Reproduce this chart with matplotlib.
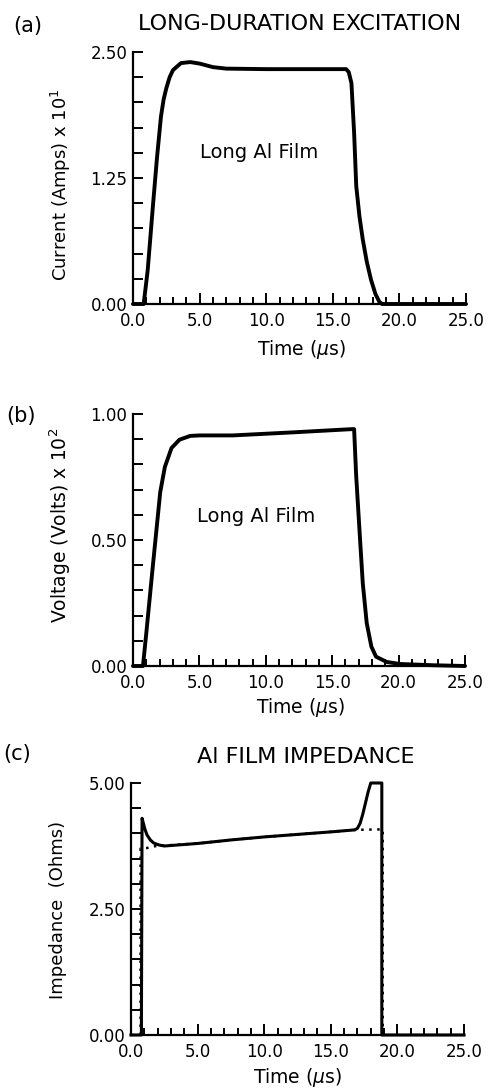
import matplotlib
matplotlib.use("Agg")
import matplotlib.pyplot as plt
from matplotlib.ticker import MultipleLocator, FixedLocator, FormatStrFormatter

# ---------------- data ----------------
# (a) current, Amps x 10^1
time_a = [0.0, 0.8, 1.1, 1.5, 1.8, 2.1, 2.3, 2.5, 2.75, 3.0, 3.6, 4.3, 5.0, 6.0, 7.0, 10.0,
          14.0, 16.0, 16.2, 16.4, 16.6, 16.76, 17.0, 17.25, 17.55, 17.87, 18.2, 18.5, 18.7, 25.0]
current_a = [0.0, 0.0, 0.33, 0.98, 1.45, 1.86, 2.03, 2.14, 2.25, 2.32, 2.39, 2.40, 2.385, 2.35,
             2.335, 2.33, 2.33, 2.33, 2.30, 2.19, 1.70, 1.17, 0.87, 0.64, 0.42, 0.24, 0.10,
             0.02, 0.0, 0.0]

# (b) voltage, Volts x 10^2
time_b = [0.0, 0.75, 1.0, 1.5, 2.05, 2.4, 2.9, 3.5, 4.3, 5.0, 7.5, 12.0, 16.5, 16.65,
          16.8, 17.1, 17.3, 17.6, 17.95, 18.3, 19.1, 20.1, 22.6, 25.0]
voltage_b = [0.0, 0.0, 0.13, 0.40, 0.69, 0.79, 0.865, 0.898, 0.913, 0.915, 0.915, 0.927, 0.94,
             0.94, 0.76, 0.50, 0.33, 0.17, 0.077, 0.037, 0.016, 0.008, 0.003, 0.0]

# (c) impedance, Ohms (solid: measured, dotted: fitted)
time_c = [0.0, 0.78, 0.83, 1.05, 1.2, 1.45, 1.7, 2.1, 2.5, 5.0, 7.5, 10.0, 12.5, 15.0, 16.8,
          17.0, 17.2, 17.4, 17.6, 17.8, 18.0, 18.83, 18.83, 25.0]
imped_c = [0.0, 0.0, 4.30, 4.08, 3.97, 3.87, 3.81, 3.77, 3.75, 3.80, 3.87, 3.93, 3.98, 4.03,
           4.07, 4.10, 4.20, 4.38, 4.60, 4.82, 5.0, 5.0, 0.0, 0.0]
time_fit = [0.72, 0.72, 1.2, 1.5, 1.9, 2.5, 5.0, 7.5, 10.0, 12.5, 15.0, 16.8, 18.9, 18.9]
imped_fit = [0.0, 3.70, 3.71, 3.73, 3.75, 3.76, 3.80, 3.87, 3.93, 3.98, 4.03, 4.07, 4.08, 0.0]

x_ticks = [0.0, 5.0, 10.0, 15.0, 20.0, 25.0]
y_ticks_a = [0.0, 1.25, 2.50]
y_ticks_b = [0.0, 0.50, 1.00]
y_ticks_c = [0.0, 2.50, 5.00]

# ---------------- figure ----------------
W, H = 491, 1088
fig = plt.figure(figsize=(W / 100, H / 100), dpi=100)
fig.patch.set_facecolor("white")


def px_axes(left, right, top, bottom):
    return fig.add_axes([left / W, 1 - bottom / H, (right - left) / W, (bottom - top) / H])


def style(ax, yticks, yminor, ymax, xpad=6):
    ax.set_xlim(0, 25)
    ax.set_ylim(0, ymax)
    for s in ("top", "right"):
        ax.spines[s].set_visible(False)
    for s in ("left", "bottom"):
        ax.spines[s].set_linewidth(1.6)
    ax.xaxis.set_major_locator(FixedLocator(x_ticks))
    ax.xaxis.set_minor_locator(MultipleLocator(1.0))
    ax.xaxis.set_major_formatter(FormatStrFormatter("%.1f"))
    ax.yaxis.set_major_locator(FixedLocator(yticks))
    ax.yaxis.set_minor_locator(MultipleLocator(yminor))
    ax.yaxis.set_major_formatter(FormatStrFormatter("%.2f"))
    ax.tick_params(axis="x", which="major", direction="in", length=8, width=1.4,
                   labelsize=12, pad=xpad)
    ax.tick_params(axis="x", which="minor", direction="in", length=5, width=1.4)
    ax.tick_params(axis="y", which="both", direction="in", length=7, width=1.4,
                   labelsize=12, pad=4)


def ftext(x, y, s, **kw):
    fig.text(x / W, 1 - y / H, s, **kw)


# (a)
ax_a = px_axes(133, 466, 52, 304)
style(ax_a, y_ticks_a, 0.25, 2.5)
ax_a.plot(time_a, current_a, color="black", lw=2.8, clip_on=False,
          solid_joinstyle="round", solid_capstyle="round")
ax_a.text(9.46, 1.45, "Long Al Film", ha="center", va="baseline", fontsize=14)
ftext(28, 26, "(a)", ha="center", va="center", fontsize=15)
ftext(300, 30, "LONG-DURATION EXCITATION", ha="center", va="baseline", fontsize=16)
ftext(61, 185, r"Current (Amps) x 10$^\mathregular{1}$", ha="center", va="center",
      rotation=90, fontsize=13)
ftext(302, 355, r"Time ($\mu$s)", ha="center", va="baseline", fontsize=13.5)

# (b)
ax_b = px_axes(133, 465, 414, 666)
style(ax_b, y_ticks_b, 0.1, 1.0)
ax_b.plot(time_b, voltage_b, color="black", lw=2.8, clip_on=False,
          solid_joinstyle="round", solid_capstyle="round")
ax_b.text(9.26, 0.57, "Long Al Film", ha="center", va="baseline", fontsize=14)
ftext(21, 416, "(b)", ha="center", va="center", fontsize=15)
ftext(60, 525, r"Voltage (Volts) x 10$^\mathregular{2}$", ha="center", va="center",
      rotation=90, fontsize=13.5)
ftext(301, 713, r"Time ($\mu$s)", ha="center", va="baseline", fontsize=13.5)

# (c)
ax_c = px_axes(131, 464, 783, 1035)
style(ax_c, y_ticks_c, 0.5, 5.0, xpad=6)
ax_c.plot(time_fit, imped_fit, color="black", lw=1.8, linestyle=(0, (1, 2.2)),
          clip_on=False)
ax_c.plot(time_c, imped_c, color="black", lw=2.2, clip_on=False, solid_joinstyle="round")
ftext(17, 754, "(c)", ha="center", va="center", fontsize=15)
ftext(306, 763, "Al FILM IMPEDANCE", ha="center", va="baseline", fontsize=16)
ftext(58, 910, "Impedance  (Ohms)", ha="center", va="center", rotation=90, fontsize=13)
ftext(298, 1083, r"Time ($\mu$s)", ha="center", va="baseline", fontsize=13.5)

fig.savefig("out.png", dpi=100, facecolor="white")
